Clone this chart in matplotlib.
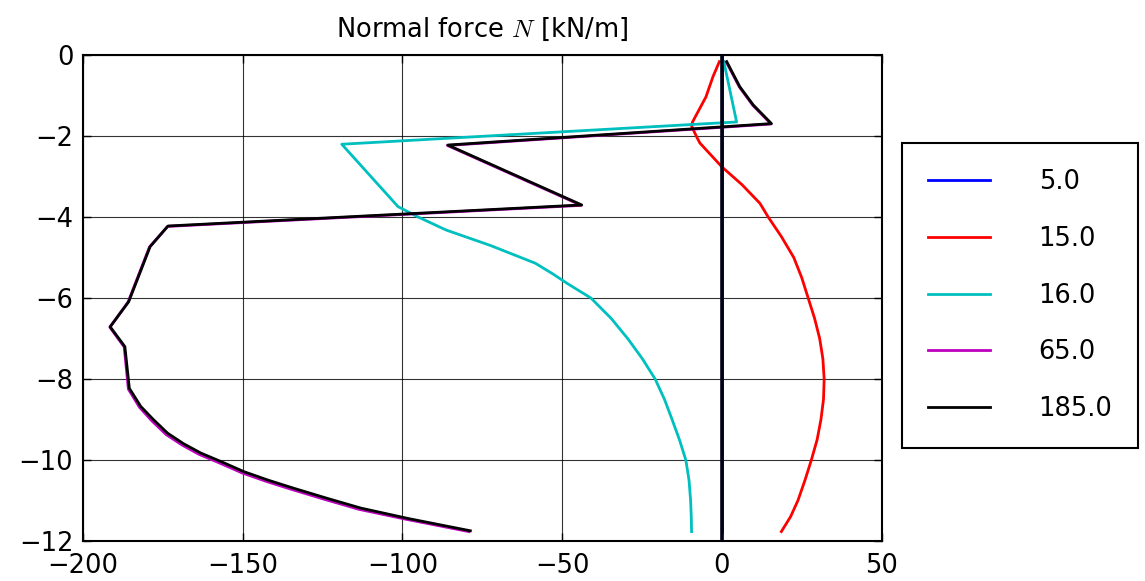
import matplotlib
matplotlib.use("Agg")
import matplotlib.pyplot as plt

# series: normal force N [kN/m] vs depth [m]
labels = ["5.0", "15.0", "16.0", "65.0", "185.0"]
colors = ["b", "r", "c", "m", "k"]

z_b = [0.0, -11.77]
n_b = [0.0, 0.0]

z_r = [-0.16, -0.53, -1.03, -1.31, -1.65, -1.75, -2.02, -2.17, -2.76, -3.2, -3.66, -4.0,
       -4.48, -5.0, -5.5, -6.0, -6.5, -7.0, -7.5, -8.0, -8.5, -9.0, -9.5, -10.0,
       -10.5, -11.0, -11.4, -11.77]
n_r = [-0.8, -2.8, -5.0, -6.9, -9.2, -9.5, -7.9, -6.9, 0.0, 6.3, 11.9, 14.5,
       18.6, 22.5, 25.0, 27.0, 29.0, 30.6, 31.6, 32.0, 31.8, 31.0, 29.8, 28.0,
       26.0, 23.8, 21.5, 18.6]

z_c = [-0.16, -1.65, -2.2, -3.74, -3.99, -4.32, -4.7, -5.14, -5.4, -5.64, -6.0, -6.5,
       -7.0, -7.5, -8.0, -8.5, -9.0, -9.5, -10.0, -10.5, -11.0, -11.4, -11.77]
n_c = [0.6, 4.6, -119.0, -101.4, -95.3, -86.3, -72.5, -58.4, -53.0, -48.4, -41.0, -34.7,
       -29.5, -24.9, -20.9, -18.0, -15.6, -13.3, -11.3, -10.3, -9.8, -9.6, -9.5]

z_k = [-0.16, -0.78, -1.23, -1.69, -2.22, -3.70, -4.22, -4.73, -6.09, -6.71, -7.2,
       -8.23, -8.68, -9.0, -9.34, -9.6, -9.83, -10.05, -10.29, -10.5, -10.7, -10.95,
       -11.19, -11.45, -11.75]
n_k = [1.5, 5.6, 9.8, 15.5, -85.8, -43.9, -173.4, -179.0, -185.7, -191.5, -186.9,
       -185.5, -181.9, -178.0, -173.5, -168.5, -163.1, -156.5, -149.6, -142.0, -134.0, -123.5,
       -113.0, -98.0, -78.75]

z_m = [-0.17, -0.79, -1.24, -1.70, -2.23, -3.71, -4.23, -4.74, -6.10, -6.72, -7.21,
       -8.25, -8.70, -9.03, -9.37, -9.63, -9.86, -10.08, -10.32, -10.53, -10.73, -10.98,
       -11.22, -11.47, -11.77]
n_m = [1.4, 5.5, 9.7, 15.4, -85.9, -44.0, -173.5, -179.2, -185.9, -191.6, -187.1,
       -185.8, -182.3, -178.5, -174.0, -169.0, -163.7, -157.1, -150.2, -142.6, -134.6, -124.1,
       -113.6, -98.6, -79.2]

plt.rcParams["mathtext.fontset"] = "cm"
plt.rcParams["font.size"] = 18.5

fig = plt.figure(figsize=(11.45, 5.81), dpi=100)
ax = fig.add_axes([0.0725, 0.069, 0.6975, 0.836])

series = [(n_b, z_b), (n_r, z_r), (n_c, z_c), (n_m, z_m), (n_k, z_k)]
for (n, z), c, lab in zip(series, colors, labels):
    ax.plot(n, z, color=c, lw=2.0, label=lab)
ax.axvline(0, color="#000018", lw=2.6, zorder=3)

ax.set_xlim(-200, 50)
ax.set_ylim(-12, 0)
ax.set_xticks([-200, -150, -100, -50, 0, 50])
ax.set_yticks([0, -2, -4, -6, -8, -10, -12])
ax.grid(True, color="k", linestyle="-", linewidth=0.8, alpha=0.8)
ax.set_axisbelow(True)
ax.tick_params(direction="in", top=True, right=True, length=6, width=1, pad=7)
ax.tick_params(axis="x", pad=9)
for s in ax.spines.values():
    s.set_linewidth(1.5)
ax.set_title("Normal force $N$ [kN/m]", fontsize=18.5, pad=13)

leg = ax.legend(loc="center left", bbox_to_anchor=(1.026, 0.505), fontsize=18.5,
                handlelength=2.4, handletextpad=1.9, labelspacing=1.2,
                borderpad=1.0, borderaxespad=0.0, fancybox=False, framealpha=1,
                edgecolor="k")
leg.get_frame().set_linewidth(1.5)

plt.savefig("out.png", dpi=100)
